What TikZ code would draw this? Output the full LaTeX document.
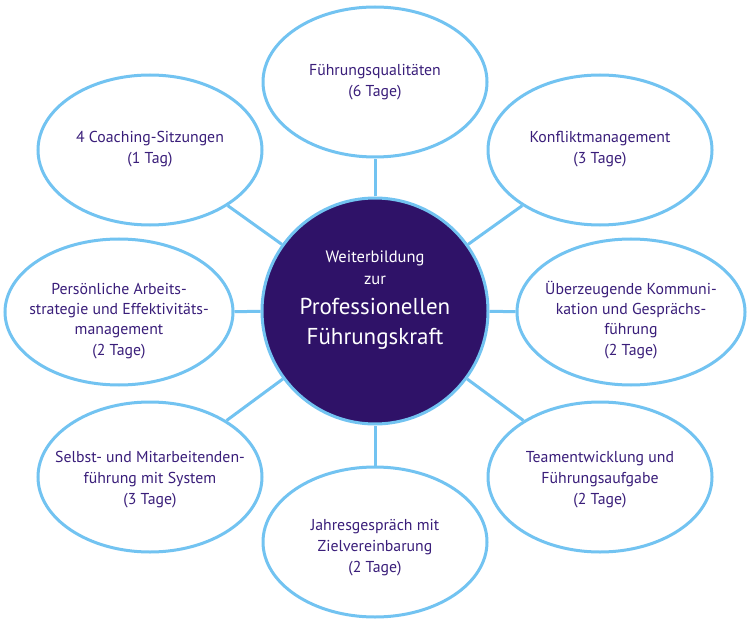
\documentclass[tikz,border=0pt]{standalone}
\usepackage{fontspec}
\setmainfont{PT Sans}
\usetikzlibrary{shapes.geometric}
\definecolor{skyline}{HTML}{72C3F1}
\definecolor{deeppurple}{HTML}{2F1268}
\definecolor{textpurple}{HTML}{3A1E7A}
\newcommand\etext[2]{\raisebox{#1}[0pt][0pt]{\makebox[0pt]{\begin{tabular}{@{}c@{}}#2\end{tabular}}}}
\tikzset{
  topic/.style={ellipse, draw=skyline, line width=3bp, fill=white,
    minimum width=224bp, minimum height=150bp, inner sep=0pt,
    text=textpurple, font=\fontsize{15.8bp}{21bp}\selectfont},
  topicwide/.style={topic, minimum width=228bp, minimum height=146bp,
    font=\fontsize{15.8bp}{20.3bp}\selectfont},
  hub/.style={circle, draw=skyline, line width=3bp, fill=deeppurple,
    minimum size=226bp, inner sep=0pt},
  link/.style={draw=skyline, line width=3bp},
}
\begin{document}
\begin{tikzpicture}[x=1bp,y=-1bp]
\useasboundingbox (0,0) rectangle (750,627);
\node[hub] (hub) at (375,311) {};
\node[align=center, text=white, font=\fontsize{16.5bp}{22bp}\selectfont] (hubtext) at (375,300)
  {Weiterbildung\\zur\\[8bp]{\fontsize{23bp}{30bp}\selectfont Professionellen}\\[8bp]{\fontsize{23bp}{30bp}\selectfont Führungskraft}};
\node[topic] (top) at (375,82) {\etext{-4bp}{Führungsqualitäten\\(6 Tage)}};
\node[topic] (ul) at (150,150) {\etext{-3bp}{4 Coaching-Sitzungen\\(1 Tag)}};
\node[topic] (ur) at (600,150) {\etext{-3bp}{Konfliktmanagement\\(3 Tage)}};
\node[topicwide] (ml) at (119,312) {\etext{-13bp}{Persönliche Arbeits-\\strategie und Effektivitäts-\\management\\(2 Tage)}};
\node[topicwide] (mr) at (631,312) {\etext{-13bp}{Überzeugende Kommuni-\\kation und Gesprächs-\\führung\\(2 Tage)}};
\node[topic] (ll) at (150,477) {\etext{-7bp}{Selbst- und Mitarbeitenden-\\führung mit System\\(3 Tage)}};
\node[topic] (lr) at (600,477) {\etext{-7bp}{Teamentwicklung und\\Führungsaufgabe\\(2 Tage)}};
\node[topic] (bot) at (375,542) {\etext{-10bp}{Jahresgespräch mit\\Zielvereinbarung\\(2 Tage)}};
\foreach \n in {top,ul,ur,ml,mr,ll,lr,bot}
  \draw[link] (hub) -- (\n);
\end{tikzpicture}
\end{document}
